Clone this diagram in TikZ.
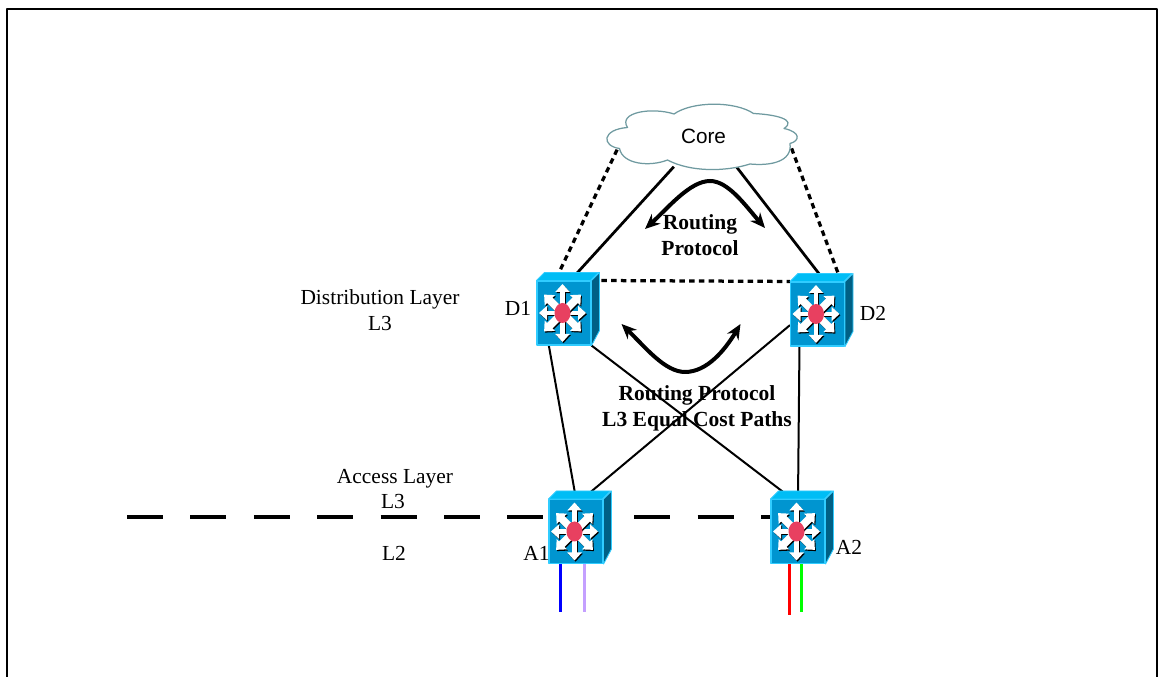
\documentclass[tikz,border=0pt]{standalone}
\usepackage{fontspec}
\setmainfont{Liberation Serif}
\newfontfamily\coresans{Liberation Sans}
\usetikzlibrary{arrows.meta}
\usetikzlibrary{shapes.geometric,backgrounds}

\definecolor{swfront}{HTML}{0095D0}
\definecolor{swtop}{HTML}{00BDF5}
\definecolor{swside}{HTML}{006085}
\definecolor{swedge}{HTML}{30CCFF}
\definecolor{swhub}{HTML}{E84060}
\definecolor{cloudline}{HTML}{6F9AA0}
\definecolor{lilac}{HTML}{C4A0FF}

\tikzset{
  labeltext/.style={font=\fontsize{12.2}{14.7}\selectfont, align=center, inner sep=0pt},
  boldtext/.style={font=\fontsize{12.25}{14.7}\selectfont\bfseries, align=center, inner sep=0pt},
  swbox/.style={draw=swedge, fill=swfront, line width=0.6pt, minimum width=1.08cm, minimum height=1.28cm, inner sep=0pt},
  swarrow/.style={-{Triangle[length=0.16cm,width=0.28cm]}, line cap=butt},
  uplink/.style={line width=0.055cm},
  uplinkdash/.style={line width=0.065cm, dash pattern=on 0.11cm off 0.085cm, line cap=butt},
  downlink/.style={line width=0.04cm},
  portline/.style={line width=0.06cm, line cap=butt},
  flow/.style={{Stealth[length=0.3cm,width=0.26cm]}-{Stealth[length=0.3cm,width=0.26cm]}, line width=0.08cm}
}

\begin{document}
\begin{tikzpicture}[line cap=round,line join=round,x=1.0cm,y=1.0cm]
\useasboundingbox (0,0) rectangle (23.24,13.54);

\draw [line width=0.03cm, line cap=butt] (0.14,0) -- (0.14,13.36) -- (23.14,13.36) -- (23.14,0);

% switches
\foreach \name/\px/\py in {D1/11.28/7.28, D2/16.35/7.26, A1/11.52/2.91, A2/15.96/2.91} {
  \node [swbox] (\name) at (\px,\py) {};
  \draw [fill=swtop, draw=swedge, line width=0.5pt] (\name.north west) -- ++(0.16,0.16) -- ++(1.08,0) -- ++(-0.16,-0.16) -- cycle;
  \draw [fill=swside, draw=swedge, line width=0.5pt] (\name.north east) -- ++(0.16,0.16) -- ++(0,-1.16) -- (\name.south east) -- cycle;
  \foreach \ang/\len/\wid in {0/0.47/0.09, 180/0.47/0.09, 90/0.58/0.09, 270/0.58/0.09, 45/0.52/0.15, 135/0.52/0.15, 225/0.52/0.15, 315/0.52/0.15} {
    \draw [swarrow, black, line width=\wid cm] ([xshift=-0.01cm,yshift=-0.025cm]\name.center) -- ++(\ang:\len);
    \draw [swarrow, white, line width=\wid cm] ([xshift=-0.03cm]\name.center) -- ++(\ang:\len);
  }
  \fill [swhub] ([xshift=-0.03cm]\name.center) ellipse (0.16cm and 0.2cm);
}

% cloud
\node [ellipse, minimum width=3.8cm, minimum height=1.28cm, inner sep=0pt] (core) at (14.07,10.82) {};
\draw [draw=cloudline, fill=white, line width=0.025cm] (12.39,10.57)
  .. controls (12.03,10.62) and (12.03,10.95) .. (12.55,10.99)
  .. controls (12.35,11.3) and (13.05,11.4) .. (13.48,11.26)
  .. controls (13.85,11.52) and (14.7,11.52) .. (15.07,11.27)
  .. controls (15.5,11.25) and (15.95,11.15) .. (15.68,10.97)
  .. controls (16.02,10.9) and (16.0,10.72) .. (15.80,10.67)
  .. controls (15.85,10.3) and (15.4,10.22) .. (15.0,10.26)
  .. controls (14.5,10.1) and (13.8,10.1) .. (13.35,10.34)
  .. controls (13.0,10.2) and (12.45,10.25) .. (12.39,10.57) -- cycle;
\node [font=\fontsize{11.8}{14}\coresans, inner sep=0pt] (coretext) at (core.center) {Core};

\coordinate (layerL) at (2.54,3.2);
\coordinate (portB) at (11.21,1.3);
\coordinate (portP) at (11.69,1.3);
\coordinate (portR) at (15.79,1.24);
\coordinate (portG) at (16.03,1.3);
\coordinate (upL) at (12.9,8.96);
\coordinate (upR) at (15.3,8.98);
\coordinate (lowL) at (12.43,7.06);
\coordinate (lowR) at (14.81,7.06);

\begin{scope}[on background layer]
\draw [uplink] (core.226) -- (D1.79);
\draw [uplink] (core.317) -- (D2.77);
\draw [uplinkdash] (core.189) -- (D1.105);
\draw [uplinkdash] (core.352) -- (D2.54);
\draw [uplinkdash] (D1.north east) -- (D2.north west);

\draw [downlink] (D1.245) -- (A1.north);
\draw [downlink] (D1.south east) -- (A2.100);
\draw [downlink] (D2.202) -- (A1.79);
\draw [downlink] (D2.241) -- (A2.north);

\draw [line width=0.08cm, line cap=butt, dash pattern=on 0.72cm off 0.548cm] (layerL) -- (layerL -| A2);

\draw [portline, blue] (portB |- A1.south) -- (portB);
\draw [portline, lilac] (portP |- A1.south) -- (portP);
\draw [portline, red] (portR |- A2.south) -- (portR);
\draw [portline, green] (portG |- A2.south) -- (portG);
\end{scope}

\draw [flow] (upL) .. controls (13.36,9.38) and (13.8,9.92) .. (14.2,9.92) .. controls (14.56,9.92) and (14.9,9.44) .. (upR);
\draw [flow] (lowL) .. controls (12.9,6.6) and (13.3,6.1) .. (13.7,6.1) .. controls (14.14,6.1) and (14.5,6.54) .. (lowR);

\node [labeltext] (distlabel) at (7.6,7.34) {Distribution Layer\\L3};
\node [labeltext] (accesslabel) at (7.9,3.96) {Access Layer};
\node [labeltext] (l3label) at (7.86,3.5) {L3};
\node [labeltext] (l2label) at (7.88,2.48) {L2};
\node [labeltext] (D1label) at (10.36,7.38) {D1};
\node [labeltext] (D2label) at (17.46,7.28) {D2};
\node [labeltext] (A1label) at (10.73,2.48) {A1};
\node [labeltext] (A2label) at (16.98,2.6) {A2};
\node [boldtext] (corerouting) at (14.0,8.84) {Routing\\Protocol};
\node [boldtext] (ecmplabel) at (13.94,5.38) {Routing Protocol\\L3 Equal Cost Paths};
\end{tikzpicture}
\end{document}
